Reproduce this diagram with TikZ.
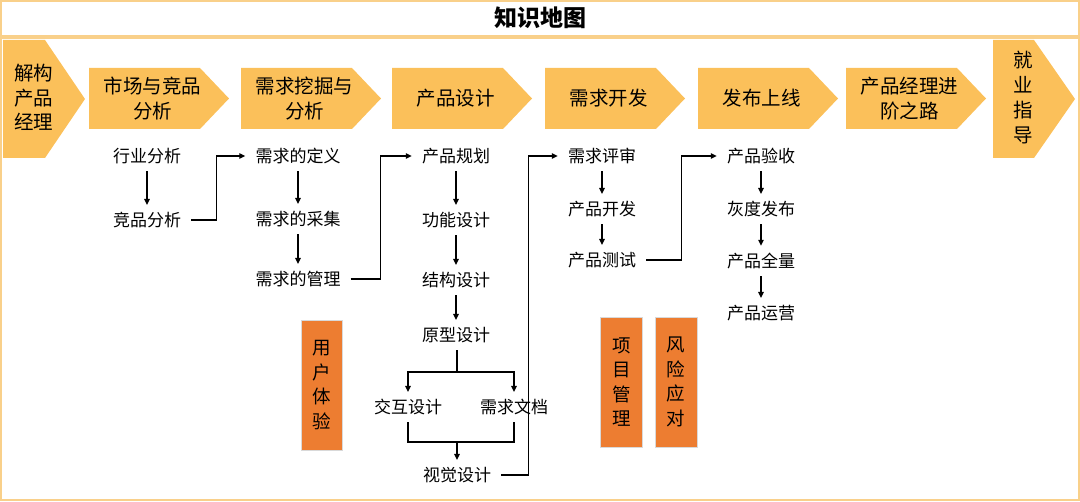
\documentclass[tikz,border=0pt]{standalone}
\usepackage{fontspec}
\setmainfont{Noto Sans CJK SC}
\usetikzlibrary{positioning, arrows.meta, calc}
\definecolor{chevorange}{HTML}{FBC05A}
\definecolor{boxorange}{HTML}{ED7D31}
\definecolor{frameorange}{HTML}{F9D08A}

\tikzset{
  stage/.style={align=center, inner sep=0pt, font=\fontsize{19.5}{24.5}\selectfont},
  item/.style={inner sep=4pt, font=\fontsize{17}{20}\selectfont},
  side/.style={fill=boxorange, draw=black!15, line width=0.6pt, minimum width=41pt, minimum height=130pt, align=center, font=\fontsize{18.5}{24.5}\selectfont},
  flow/.style={-{Triangle[length=6pt,width=5.5pt]}, line width=1.3pt, shorten <=3pt, shorten >=3pt},
  link/.style={line width=1.3pt},
  frame/.style={draw=frameorange, line width=2pt}
}

\begin{document}
\begin{tikzpicture}[x=1pt, y=-1pt]
  \useasboundingbox (0,0) rectangle (1080,502);
  % frame and title
  \draw[frame] (1,1) rectangle (1079,36);
  \draw[frame] (1,38) rectangle (1079,500);
  \node[font=\fontsize{23}{26}\selectfont\bfseries] (title) at (540,18) {知识地图};

  % stages
  \fill[chevorange] (3,40) -- (45,40) -- (85,99) -- (45,158) -- (3,158) -- cycle;
  \node[stage] (intro) at (34,97.5) {解构\\产品\\经理};
  \foreach \x/\nm/\txt in {89/mkt/{市场与竞品\\分析}, 241/req/{需求挖掘与\\分析}, 392/des/{产品设计},
                           545/dev/{需求开发}, 698/rel/{发布上线}, 846/adv/{产品经理进\\阶之路}}{
    \fill[chevorange] (\x,68) -- ++(111,0) -- ++(29,30.5) -- ++(-29,30.5) -- ++(-111,0) -- cycle;
    \node[stage] (\nm) at (\x+63.5,98.5) {\txt};
  }
  \fill[chevorange] (993,40) -- (1034,40) -- (1075,99) -- (1034,158) -- (993,158) -- cycle;
  \node[stage, font=\fontsize{19.5}{25}\selectfont] (job) at (1023,98) {就\\业\\指\\导};

  % market
  \node[item] (hy) at (147,156) {行业分析};
  \node[item] (jp) at (147,220) {竞品分析};
  % requirements
  \node[item] (dy) at (298,156) {需求的定义};
  \node[item] (cj) at (298,219) {需求的采集};
  \node[item] (gl) at (298,279) {需求的管理};
  % design
  \node[item] (gh) at (456,156) {产品规划};
  \node[item] (gn) at (456,220) {功能设计};
  \node[item] (jg) at (456,280) {结构设计};
  \node[item] (yx) at (456,335) {原型设计};
  \node[item] (jh) at (408,407) {交互设计};
  \node[item] (wd) at (514,407) {需求文档};
  \node[item] (sj) at (457,475) {视觉设计};
  % development
  \node[item] (ps) at (602,156) {需求评审};
  \node[item] (kf) at (602,209) {产品开发};
  \node[item] (cs) at (602,260) {产品测试};
  % release
  \node[item] (ys) at (761,156) {产品验收};
  \node[item] (hd) at (761,209) {灰度发布};
  \node[item] (ql) at (761,261) {产品全量};
  \node[item] (yy) at (761,313) {产品运营};

  % side topics
  \node[side] (ux) at (321.5,385) {用\\户\\体\\验};
  \node[side, minimum width=42pt] (pm) at (621.5,382) {项\\目\\管\\理};
  \node[side, minimum width=42pt] (risk) at (676,382) {风\\险\\应\\对};

  % arrows down
  \draw[flow] (hy) -- (jp);
  \draw[flow] (dy) -- (cj);
  \draw[flow] (cj) -- (gl);
  \draw[flow] (gh) -- (gn);
  \draw[flow] (gn) -- (jg);
  \draw[flow] (jg) -- (yx);
  \draw[flow] (ps) -- (kf);
  \draw[flow] (kf) -- (cs);
  \draw[flow] (ys) -- (hd);
  \draw[flow] (hd) -- (ql);
  \draw[flow] (ql) -- (yy);

  % split and merge
  \coordinate (split) at (457,372);
  \coordinate (merge) at (457,442);
  \draw[link, shorten <=3pt] (yx.south -| split) -- (split);
  \draw[flow, shorten <=0pt] (split) -| (jh.north);
  \draw[flow, shorten <=0pt] (split) -| (wd.north);
  \draw[link, shorten <=3pt] (jh.south) |- (merge);
  \draw[link, shorten <=3pt] (wd.south) |- (merge);
  \draw[flow, shorten <=0pt] (merge) -- (sj.north);

  % links between columns
  \draw[flow, shorten <=0pt, shorten >=0pt] ([xshift=6pt]jp.east) -- ++(25,0) |- ([xshift=-6pt]dy.west);
  \draw[flow, shorten <=0pt, shorten >=0pt] ([xshift=6pt]gl.east) -- ++(30,0) |- ([xshift=-6pt]gh.west);
  \draw[flow, shorten <=0pt, shorten >=0pt] ([xshift=6pt]sj.east) -- ++(27,0) |- ([xshift=-6pt]ps.west);
  \draw[flow, shorten <=0pt, shorten >=0pt] ([xshift=6pt]cs.east) -- ++(35,0) |- ([xshift=-6pt]ys.west);
\end{tikzpicture}
\end{document}
